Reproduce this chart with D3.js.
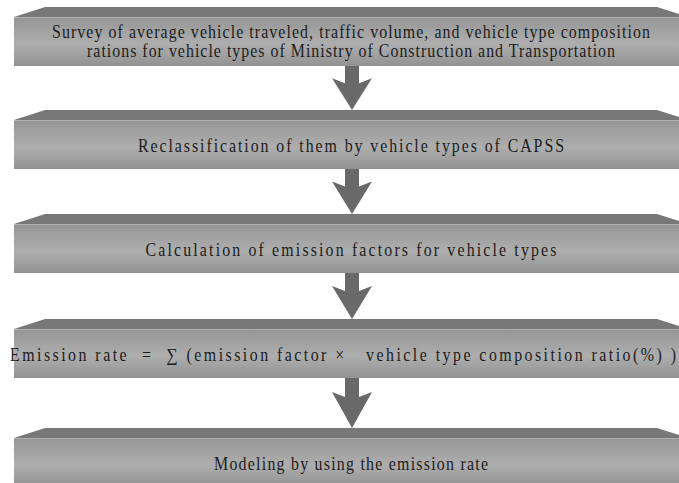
<!DOCTYPE html>
<html>
<head>
<meta charset="utf-8">
<script src="https://cdn.jsdelivr.net/npm/d3@7"></script>
<style>
  body { margin: 0; background: #fff; }
  svg { display: block; }
  text { white-space: pre; }
</style>
</head>
<body>
<div id="chart"></div>
<script>
// Flow chart steps, top to bottom (one array entry per text line)
var stepIds = ["survey", "reclass", "calc", "rate", "model"];
var stepLines = [
    ["Survey of average vehicle traveled, traffic volume, and vehicle type composition",
     "rations for vehicle types of Ministry of Construction and Transportation"],
    ["Reclassification of them by vehicle types of CAPSS"],
    ["Calculation of emission factors for vehicle types"],
    ["Emission rate  =  \u2211 (emission factor \u00d7   vehicle type composition ratio(%) )"],
    ["Modeling by using the emission rate"]
];

var svgWidth = 679;
var svgHeight = 483;

// layout
var boxLeft = 14;
var boxRight = 688;
var boxHeight = 49;
var bevel = 10;      // height of the top face
var inset = 31;      // horizontal inset of the top face
var squeeze = 0.86;  // the original lettering is narrow and tall

var yTop = d3.scaleOrdinal()
    .domain(stepIds)
    .range([17, 120, 224, 329, 438]);

// measured text widths so the letter spacing matches
var lineWidths = [[598, 528], [426], [411], [666], [274]];

var svg = d3.select("#chart")
    .append("svg")
    .attr("width", svgWidth)
    .attr("height", svgHeight);

var defs = svg.append("defs");
var grad = defs.append("linearGradient")
    .attr("id", "front")
    .attr("x1", 0).attr("y1", 0)
    .attr("x2", 0).attr("y2", 1);
grad.append("stop").attr("offset", "0%").attr("stop-color", "#959595");
grad.append("stop").attr("offset", "55%").attr("stop-color", "#aeaeae");
grad.append("stop").attr("offset", "100%").attr("stop-color", "#929292");

var steps = stepIds.map(function(id, i) {
    return { id: id, lines: stepLines[i], widths: lineWidths[i] };
});

// Arrows between boxes
var arrows = svg.append("g").attr("class", "arrows");
var cx = 352;
for (var i = 0; i < stepIds.length - 1; i++) {
    var y0 = yTop(stepIds[i]) + boxHeight;
    var y1 = yTop(stepIds[i + 1]) - bevel;   // tip touches top face
    var headTop = y0 + (y1 - y0) * 0.28;
    var neck = headTop + 5;
    var path = d3.path();
    path.moveTo(cx - 7, y0);
    path.lineTo(cx + 7, y0);
    path.lineTo(cx + 7, neck);
    path.lineTo(cx + 20, headTop);
    path.lineTo(cx, y1);
    path.lineTo(cx - 20, headTop);
    path.lineTo(cx - 7, neck);
    path.closePath();
    arrows.append("path")
        .attr("d", path.toString())
        .attr("fill", "#696969");
}

// Boxes
var boxes = svg.selectAll("g.step")
    .data(steps)
    .enter()
    .append("g")
    .attr("class", "step")
    .attr("transform", d => `translate(0, ${yTop(d.id)})`);

boxes.append("path")
    .attr("d", function() {
        var p = d3.path();
        p.moveTo(boxLeft, 0);
        p.lineTo(boxLeft + inset, -bevel);
        p.lineTo(boxRight - inset, -bevel);
        p.lineTo(boxRight, 0);
        p.closePath();
        return p.toString();
    })
    .attr("fill", "#787878");

boxes.append("rect")
    .attr("x", boxLeft)
    .attr("y", 0)
    .attr("width", boxRight - boxLeft)
    .attr("height", boxHeight)
    .attr("fill", "url(#front)");

boxes.append("line")
    .attr("x1", boxLeft).attr("x2", boxRight)
    .attr("y1", 0.5).attr("y2", 0.5)
    .attr("stroke", "#b0b0b0")
    .attr("stroke-width", 1);

boxes.each(function(d) {
    var g = d3.select(this);
    var n = d.lines.length;
    d.lines.forEach(function(line, j) {
        var base = n === 1 ? 32 : 21 + j * 19;
        var tx = d.id === "rate" ? 343 : 351;
        g.append("g")
            .attr("transform", `translate(${tx}, ${base}) scale(${squeeze}, 1)`)
            .append("text")
            .attr("x", 0)
            .attr("y", 0)
            .attr("text-anchor", "middle")
            .attr("font-family", "'Liberation Serif', 'Times New Roman', Times, serif")
            .attr("font-size", 18.5)
            .attr("fill", "#1c1c1c")
            .attr("textLength", d.widths[j] / squeeze)
            .attr("lengthAdjust", "spacing")
            .text(line);
    });
});
</script>
</body>
</html>
